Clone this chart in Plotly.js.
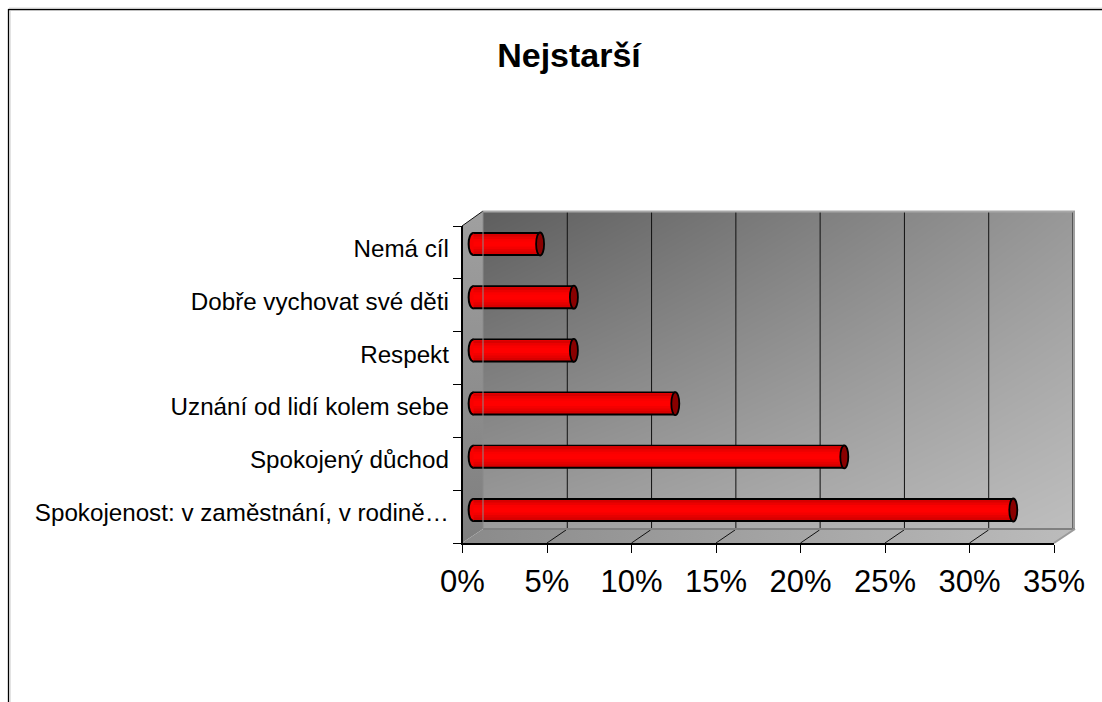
<!DOCTYPE html>
<html><head><meta charset="utf-8">
<script src="https://cdn.plot.ly/plotly-3.0.1.min.js"></script>
<style>html,body{margin:0;padding:0;background:#fff;overflow:hidden}#c{width:1102px;height:702px}</style>
</head><body><div id="c"></div>
<script>
const categories = ["Spokojenost: v zaměstnání, v rodině…","Spokojený důchod","Uznání od lidí kolem sebe","Respekt","Dobře vychovat své děti","Nemá cíl"];
const values = [32,22,12,6,6,4];
const xTicks = [0,5,10,15,20,25,30,35];
const bandColors = ["#d80000","#ec0000","#fa0000","#ff0000","#ff0000","#f40000","#e60000","#d80000"];
const W=1102,H=702;
const dx=a=>[a[0]/W,a[1]/W], dy=a=>[1-a[1]/H,1-a[0]/H];
const hide={visible:false,fixedrange:true};
const traces=[];
traces.push({type:'scatter',xaxis:'x',yaxis:'y',mode:'lines',line:{width:0},x:[462,483,483,462,462],y:[226,211,529,543,226],fill:'toself',
 fillgradient:{type:'vertical',colorscale:[[0,'#7e7e7e'],[1,'#a0a0a0']]},hoverinfo:'skip'});
traces.push({type:'scatter',xaxis:'x',yaxis:'y',mode:'lines',line:{width:0},x:[462,483,1075,1054,462],y:[543,529,529,543,543],fill:'toself',
 fillgradient:{type:'horizontal',colorscale:[[0,'#8a8a8a'],[1,'#bcbcbc']]},hoverinfo:'skip'});
traces.push({type:'heatmap',xaxis:'x2',yaxis:'y2',x:[0,35],y:[0,1],z:[[0x9c,0xbe],[0x5e,0x98]],zmin:0,zmax:255,zsmooth:'best',
 colorscale:[[0,'rgb(0,0,0)'],[1,'rgb(255,255,255)']],showscale:false,hoverinfo:'skip'});
const gx=[],gy=[];
xTicks.slice(1).forEach(t=>{gx.push(t,t,null);gy.push(0,1,null)});
traces.push({type:'scatter',xaxis:'x2',yaxis:'y2',mode:'lines',x:gx,y:gy,line:{color:'#111',width:1},hoverinfo:'skip'});
traces.push({type:'scatter',xaxis:'x3',yaxis:'y3',mode:'markers',x:values,y:categories,marker:{opacity:0},hoverinfo:'skip'});
const fx=[],fy=[];
xTicks.slice(1,-1).forEach(t=>{const a=462.5+t*16.9;fx.push(a,a+19,null);fy.push(543,530,null)});
fx.push(462,483);fy.push(226,211);
traces.push({type:'scatter',xaxis:'x',yaxis:'y',mode:'lines',x:fx,y:fy,line:{color:'#111',width:1},hoverinfo:'skip'});
const unit=53.2;
traces.push({type:'bar',orientation:'h',xaxis:'x4',yaxis:'y4',x:values,y:categories,width:24/unit,marker:{color:'#000',line:{width:0}},hoverinfo:'skip'});
const inner=20, bh=inner/bandColors.length;
bandColors.forEach((c,i)=>{
 const n=bandColors.length-i;
 traces.push({type:'bar',orientation:'h',xaxis:'x4',yaxis:'y4',x:values,y:categories,width:n*bh/unit,offset:(inner/2-n*bh)/unit,
  marker:{color:bandColors[n-1],line:{width:0}},hoverinfo:'skip'});
});
const shapes=[];
values.forEach((v,i)=>{
 shapes.push({type:'circle',xref:'x4',yref:'y4',xsizemode:'pixel',ysizemode:'pixel',xanchor:v,yanchor:i,x0:-4,x1:4,y0:-11.5,y1:11.5,
  fillcolor:'#8a0000',line:{color:'#000',width:1.8}});
 shapes.push({type:'path',xref:'x4',yref:'y4',xsizemode:'pixel',ysizemode:'pixel',xanchor:0,yanchor:i,
  path:'M 1 -11 C -5.5 -11 -5.5 11 1 11',fillcolor:'#f80000',line:{color:'#000',width:2}});
});
const ln=(x0,y0,x1,y1,c,w)=>({type:'line',xref:'paper',yref:'paper',x0:x0/W,x1:x1/W,y0:1-y0/H,y1:1-y1/H,line:{color:c,width:w},layer:'above'});
shapes.push(ln(8.5,9.5,1102,9.5,'#000',1.3),ln(8.5,9,8.5,702,'#000',1.3),ln(9,8,1102,8,'#d8d8d8',1),ln(10,11,10,702,'#c8c8c8',1));
shapes.push(ln(483,211.5,1075,211.5,'#a8a8a8',2),ln(1074,211,1074,529,'#a0a0a0',2),ln(483,529,1075,529,'#808080',2),ln(483,211,483,529,'#8a8a8a',1));
shapes.push(ln(1054,543,1075,529,'#9a9a9a',2));
const layout={width:W,height:H,margin:{l:0,r:0,t:0,b:0,pad:0},paper_bgcolor:'#fff',plot_bgcolor:'rgba(0,0,0,0)',showlegend:false,barmode:'overlay',
 font:{family:'"Liberation Sans",Arial,sans-serif',color:'#000'},
 title:{text:'<b>Nejstarší</b>',x:569/W,xanchor:'center',y:1-55/H,yanchor:'middle',xref:'paper',yref:'paper',font:{size:34,color:'#000'}},
 xaxis:{...hide,domain:[0,1],range:[0,W]},
 yaxis:{...hide,domain:[0,1],range:[H,0]},
 xaxis2:{...hide,anchor:'y2',domain:dx([483,1073]),range:[0,35]},
 yaxis2:{...hide,anchor:'x2',domain:dy([211,529]),range:[0,1]},
 xaxis3:{anchor:'y3',domain:dx([462.5,1054]),range:[0,35],tickvals:xTicks,ticktext:xTicks.map(t=>t+'%'),showgrid:false,zeroline:false,
  showline:true,linecolor:'#000',linewidth:1.5,ticks:'outside',ticklen:8,tickcolor:'#000',tickwidth:1,tickfont:{size:31,color:'#000'},ticklabelstandoff:2,fixedrange:true},
 yaxis3:{anchor:'x3',domain:dy([226,543]),type:'category',categoryorder:'array',categoryarray:categories,range:[-0.5,5.5],tickson:'boundaries',showgrid:false,zeroline:false,
  showline:true,linecolor:'#000',linewidth:1.5,ticks:'outside',ticklen:8,tickcolor:'#000',tickwidth:1,tickfont:{size:24.2,color:'#000'},ticklabelstandoff:7,ticklabelshift:-4,fixedrange:true},
 xaxis4:{...hide,anchor:'y4',domain:dx([455.6,1064]),range:[-1,35]},
 yaxis4:{...hide,anchor:'x4',domain:dy([217.4,536.6]),type:'category',categoryorder:'array',categoryarray:categories,range:[-0.5,5.5]},
 shapes
};
Plotly.newPlot('c',traces,layout,{displayModeBar:false,responsive:false});
</script></body></html>
